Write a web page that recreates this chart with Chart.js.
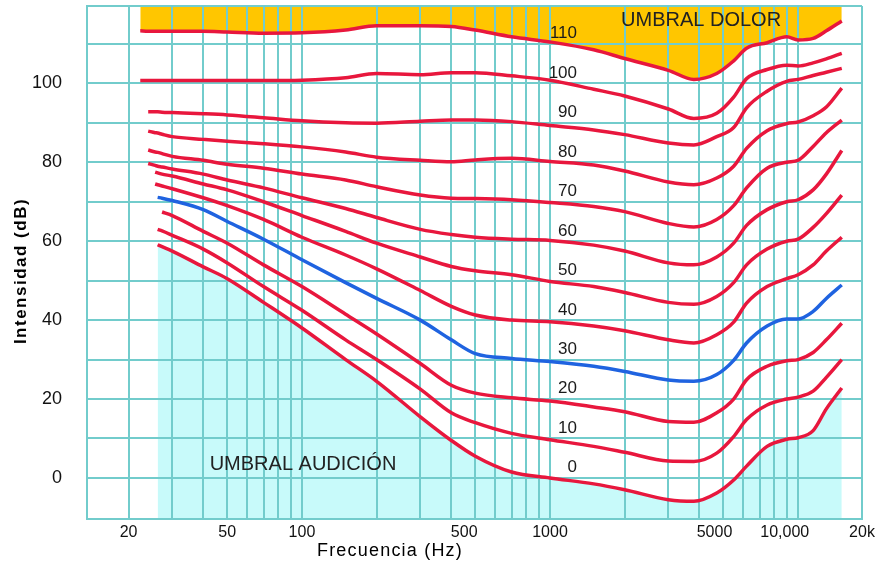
<!DOCTYPE html>
<html><head><meta charset="utf-8">
<script src="https://cdn.jsdelivr.net/npm/chart.js@4/dist/chart.umd.min.js"></script>
<style>html,body{margin:0;padding:0;background:#fff}#wrap{width:875px;height:565px;position:relative}</style>
</head><body><div id="wrap"><canvas id="c"></canvas></div>
<script>
// Frequencies (Hz) at which the curves were read
const freqs = [22.3, 24, 25.6, 26.2, 27.3, 30, 40, 50, 70, 100, 150, 200, 300, 400, 500, 700, 1000, 1500, 2000, 3000, 3800, 4700, 5500, 6200, 7500, 9000, 10000, 11500, 13000, 15000];
// Equal-loudness curves (dB) per phon level
const phon110 = [113.3, 113.2, 113.2, 113.2, 113.2, 113.2, 113.2, 113.0, 112.7, 112.8, 113.5, 114.6, 114.6, 114.4, 113.5, 111.8, 110.5, 108.5, 106.3, 103.3, 101.0, 102.5, 105.7, 108.9, 110.3, 111.8, 111.0, 111.4, 113.3, 115.8];
const phon100 = [100.7, 100.7, 100.7, 100.7, 100.7, 100.7, 100.7, 100.7, 100.7, 100.8, 101.4, 102.5, 102.2, 102.7, 102.7, 101.9, 100.8, 98.5, 96.8, 93.5, 91.1, 92.4, 96.5, 101.2, 103.5, 104.6, 104.4, 105.2, 106.2, 107.6];
const phon90  = [null, 92.8, 92.8, 92.8, 92.7, 92.6, 92.3, 92.0, 91.3, 90.5, 90.0, 89.9, 90.4, 90.7, 90.7, 90.3, 89.3, 88.2, 87.0, 84.9, 84.4, 86.5, 88.8, 93.8, 98.0, 100.5, 101.0, 102.0, 102.8, 103.8];
const phon80  = [null, 87.9, 87.5, 87.4, 87.1, 86.5, 85.8, 85.3, 84.7, 83.9, 82.6, 81.3, 80.5, 80.1, 80.6, 81.0, 80.2, 79.3, 77.8, 75.0, 74.3, 76.0, 79.0, 83.5, 88.0, 89.8, 90.2, 91.8, 94.0, 98.8];
const phon70  = [null, 83.1, 82.6, 82.5, 82.2, 81.5, 80.5, 79.5, 78.5, 77.0, 75.5, 73.8, 71.7, 70.9, 70.8, 70.5, 69.8, 68.8, 67.5, 64.5, 63.6, 65.5, 69.0, 73.5, 78.5, 80.0, 80.5, 84.0, 87.5, 90.7];
const phon60  = [null, 79.7, 79.2, 79.0, 78.8, 78.3, 77.0, 75.5, 73.5, 71.0, 68.3, 66.0, 63.0, 61.7, 61.0, 60.5, 60.2, 59.0, 57.5, 54.5, 54.0, 56.0, 59.5, 64.0, 68.0, 70.0, 70.5, 73.0, 77.0, 83.0];
const phon50  = [null, null, 77.5, 77.3, 77.0, 76.5, 74.5, 73.0, 70.0, 66.5, 62.5, 59.5, 56.0, 53.6, 52.5, 51.5, 49.8, 48.5, 47.0, 44.5, 44.0, 46.0, 49.5, 54.0, 58.0, 60.0, 60.5, 63.5, 67.0, 71.7];
const phon40  = [null, null, 74.5, 74.3, 74.0, 73.3, 71.0, 69.0, 65.5, 61.0, 56.5, 53.0, 47.5, 43.5, 41.3, 40.0, 39.6, 38.5, 37.3, 35.0, 34.2, 36.3, 39.5, 44.3, 48.5, 50.5, 51.5, 54.0, 57.5, 61.0];
const phon30  = [null, null, null, 71.1, 70.9, 70.3, 68.0, 65.0, 60.5, 55.3, 49.5, 45.5, 40.0, 35.0, 31.5, 30.3, 29.5, 28.3, 27.0, 24.8, 24.5, 26.2, 29.8, 34.2, 38.5, 40.3, 40.3, 42.2, 45.5, 48.9];
const phon20  = [null, null, null, null, 67.4, 66.5, 62.5, 59.5, 54.0, 48.5, 41.5, 36.5, 29.0, 23.5, 21.5, 20.3, 19.5, 18.0, 16.8, 14.3, 14.1, 16.5, 20.0, 24.9, 28.3, 29.7, 30.0, 31.8, 35.0, 39.2];
const phon10  = [null, null, null, 63.0, 62.6, 61.5, 58.0, 54.5, 48.5, 42.5, 35.0, 30.0, 22.5, 16.5, 14.0, 11.3, 9.7, 8.0, 6.5, 4.3, 4.2, 6.3, 10.5, 14.8, 18.5, 20.0, 20.5, 22.0, 25.5, 30.0];
const phon0   = [null, null, null, 59.1, 58.6, 57.5, 53.5, 50.5, 44.5, 38.0, 30.0, 24.5, 15.5, 9.5, 5.5, 1.5, 0.0, -1.5, -3.0, -5.5, -5.9, -3.8, -0.5, 3.0, 8.0, 9.8, 10.2, 12.0, 17.5, 22.8];

const phonLevels = [110, 100, 90, 80, 70, 60, 50, 40, 30, 20, 10, 0];
const phonCurves = [phon110, phon100, phon90, phon80, phon70, phon60, phon50, phon40, phon30, phon20, phon10, phon0];

// Axis ticks
const xGridValues = [20,30,40,50,60,70,80,90,100,200,300,400,500,600,700,800,900,1000,2000,3000,4000,5000,6000,7000,8000,9000,10000];
const xTickLabels = {20:'20', 50:'50', 100:'100', 500:'500     ', 1000:'1000', 5000:'5000    ', 10000:'10,000      '};
const xEndLabel = '20k';
const yGridValues = [0,10,20,30,40,50,60,70,80,90,100,110];
const yTickLabels = [0,20,40,60,80,100];
const X_MIN = 13.6, X_MAX = 18100, Y_MIN = -10.4, Y_MAX = 119.6;

const RED = '#e8173d', BLUE = '#1f63e0', GRID = '#72cccc';
const FONT = '"Liberation Sans", Arial, sans-serif';

const datasets = phonCurves.map((arr, i) => {
  const lvl = phonLevels[i];
  const pts = freqs.map((f, j) => ({x: f, y: arr[j]})).filter(p => p.y !== null);
  const ds = {
    label: lvl + ' phon',
    data: pts,
    borderColor: lvl === 30 ? BLUE : RED,
    borderWidth: 3.5,
    pointRadius: 0,
    cubicInterpolationMode: 'monotone',
    fill: false
  };
  if (lvl === 110) { ds.fill = 'end'; ds.backgroundColor = '#ffc600'; }
  if (lvl === 0) { ds.fill = 'start'; ds.backgroundColor = '#c8fafa'; }
  return ds;
});

const textPlugin = {
  id: 'texts',
  afterDatasetsDraw(chart) {
    const {ctx, scales: {x, y}} = chart;
    ctx.save();
    ctx.fillStyle = '#1a1a1a';
    ctx.font = '17px ' + FONT;
    ctx.textAlign = 'right';
    ctx.textBaseline = 'middle';
    phonLevels.forEach(p => ctx.fillText(String(p), x.getPixelForValue(1285), y.getPixelForValue(p + 2.6)));
    ctx.textAlign = 'center';
    ctx.fillStyle = '#222';
    ctx.font = '20px ' + FONT;
    ctx.fillText('UMBRAL DOLOR', x.getPixelForValue(4064), y.getPixelForValue(116));
    ctx.fillText('UMBRAL AUDICIÓN', x.getPixelForValue(101), y.getPixelForValue(3.4));
    ctx.fillStyle = '#000';
    ctx.font = '18px ' + FONT;
    ctx.letterSpacing = '1.2px';
    ctx.fillText('Frecuencia (Hz)', 390, 551);
    ctx.translate(21, 271);
    ctx.rotate(-Math.PI / 2);
    ctx.font = 'bold 17px ' + FONT;
    ctx.letterSpacing = '1.5px';
    ctx.fillText('Intensidad (dB)', 0, 0);
    ctx.restore();
  }
};

new Chart(document.getElementById('c'), {
  type: 'line',
  data: {datasets},
  plugins: [textPlugin],
  options: {
    responsive: true,
    maintainAspectRatio: false,
    animation: false,
    layout: {padding: {left: 0, right: 13, top: 6, bottom: 0}},
    plugins: {legend: {display: false}, tooltip: {enabled: false}, filler: {drawTime: 'beforeDraw'}},
    scales: {
      x: {
        type: 'logarithmic', min: X_MIN, max: X_MAX,
        afterBuildTicks(s) { s.ticks = [X_MIN, ...xGridValues, X_MAX].map(v => ({value: v})); },
        afterFit(s) { s.height = 46; s.paddingLeft = 0; s.paddingRight = 0; },
        ticks: {
          autoSkip: false, maxRotation: 0, padding: 4, color: '#111',
          font: {family: FONT, size: 16},
          callback(v) { if (v === X_MAX) return xEndLabel; return xTickLabels[v] || ''; }
        },
        grid: {color: GRID, lineWidth: 2, drawTicks: false},
        border: {color: GRID, width: 2}
      },
      y: {
        type: 'linear', min: Y_MIN, max: Y_MAX,
        afterBuildTicks(s) { s.ticks = [Y_MIN, ...yGridValues, Y_MAX].map(v => ({value: v})); },
        afterFit(s) { s.width = 87; s.paddingTop = 0; s.paddingBottom = 0; },
        ticks: {
          autoSkip: false, padding: 25, color: '#111',
          font: {family: FONT, size: 18},
          callback(v) { return yTickLabels.includes(v) ? String(v) : ''; }
        },
        grid: {color: GRID, lineWidth: 2, drawTicks: false},
        border: {color: GRID, width: 2}
      }
    }
  }
});
</script>
</body></html>
